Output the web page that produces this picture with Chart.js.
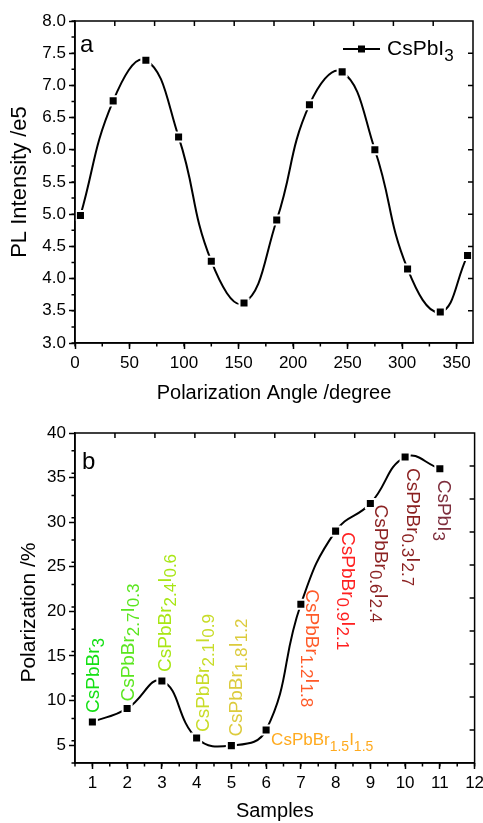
<!DOCTYPE html>
<html>
<head>
<meta charset="utf-8">
<script src="https://cdn.jsdelivr.net/npm/chart.js@4.4.1/dist/chart.umd.min.js"></script>
<style>
  body { margin: 0; background: #fff; }
  canvas { display: block; }
</style>
</head>
<body>
<canvas id="chartA" width="483" height="410"></canvas>
<canvas id="chartB" width="483" height="413"></canvas>
<script>
// (a) PL intensity vs polarization angle
const angles = [5, 35, 65, 95, 125, 155, 185, 215, 245, 275, 305, 335, 360];
const intensity = [4.98, 6.76, 7.39, 6.20, 4.27, 3.62, 4.91, 6.70, 7.21, 6.00, 4.15, 3.48, 4.36];

// (b) polarization of each sample
const samples = [1, 2, 3, 4, 5, 6, 7, 8, 9, 10, 11];
const polarization = [7.6, 9.1, 12.2, 5.8, 4.95, 6.7, 20.8, 29.0, 32.1, 37.3, 36.0];
const sampleNames = ['CsPbBr3', 'CsPbBr2.7I0.3', 'CsPbBr2.4I0.6', 'CsPbBr2.1I0.9', 'CsPbBr1.8I1.2',
  'CsPbBr1.5I1.5', 'CsPbBr1.2I1.8', 'CsPbBr0.9I2.1', 'CsPbBr0.6I2.4', 'CsPbBr0.3I2.7', 'CsPbI3'];

// label look: colour, rotation, offset from the point
const nameColors = ['#14e014', '#5ae61e', '#a8e614', '#c8dc28', '#dccb3c', '#ffaa1e',
  '#ff5a28', '#ff2020', '#8c2323', '#8a1f1f', '#7d2d3c'];
const namePlace = [[-90, 7, -9], [-90, 7, -7], [-90, 9, -9], [-90, 12, -6], [-90, 11, -9], [0, 5, 15],
  [90, 5, -15], [90, 6, 1], [90, 5, 1], [90, 2, 11], [90, -2, 11]];

const FONT = '"Liberation Sans", Arial, sans-serif';
Chart.defaults.font.family = FONT;
Chart.defaults.color = '#000';

// draws formula text with number subscripts
function drawFormula(ctx, text, x, y, rot, size, subSize, subShift) {
  const parts = text.match(/[A-Za-z]+|[0-9.]+/g);
  ctx.save();
  ctx.translate(x, y);
  ctx.rotate(rot * Math.PI / 180);
  ctx.textAlign = 'left';
  ctx.textBaseline = 'alphabetic';
  let cx = 0;
  parts.forEach(p => {
    const sub = /^[0-9.]/.test(p);
    ctx.font = (sub ? subSize : size) + 'px ' + FONT;
    ctx.fillText(p, cx, sub ? subShift : 0);
    cx += ctx.measureText(p).width;
  });
  ctx.restore();
}

// box frame, minor ticks, inward ticks on top/right
const framePlugin = {
  id: 'frame',
  afterDraw(chart, args, opts) {
    const {ctx, chartArea: a, scales} = chart;
    ctx.save();
    ctx.strokeStyle = '#000';
    ctx.lineWidth = 1.5;
    ctx.strokeRect(a.left, a.top, a.right - a.left, a.bottom - a.top);
    ctx.beginPath();
    for (let v = scales.x.min; v <= scales.x.max + 1e-9; v += opts.xMinor) {
      const px = scales.x.getPixelForValue(v);
      ctx.moveTo(px, a.bottom); ctx.lineTo(px, a.bottom + 3.5);
    }
    for (let v = scales.y.min; v <= scales.y.max + 1e-9; v += opts.yMinor) {
      const py = scales.y.getPixelForValue(v);
      ctx.moveTo(a.left, py); ctx.lineTo(a.left - 3.5, py);
    }
    for (let v = 1; v < 10; v++) {
      const px = scales.x2.getPixelForValue(v);
      ctx.moveTo(px, a.top); ctx.lineTo(px, a.top + 5);
      const py = scales.y2.getPixelForValue(v);
      ctx.moveTo(a.right, py); ctx.lineTo(a.right - 5, py);
    }
    ctx.stroke();

    ctx.fillStyle = '#000';
    ctx.font = '24px ' + FONT;
    ctx.fillText(opts.letter, a.left + opts.letterX, a.top + opts.letterY);
    ctx.restore();
  }
};

const legendPlugin = {
  id: 'legendA',
  afterDraw(chart) {
    const {ctx, chartArea: a} = chart;
    const y = a.top + 28;
    ctx.save();
    ctx.strokeStyle = '#000';
    ctx.lineWidth = 2;
    ctx.beginPath();
    ctx.moveTo(a.right - 130, y); ctx.lineTo(a.right - 93, y);
    ctx.stroke();
    ctx.fillStyle = '#000';
    ctx.fillRect(a.right - 115, y - 3.5, 7, 7);
    drawFormula(ctx, chart.data.datasets[0].label, a.right - 86, a.top + 34, 0, 21, 17, 6);
    ctx.restore();
  }
};

const namesPlugin = {
  id: 'names',
  afterDatasetsDraw(chart) {
    const {ctx, scales} = chart;
    samples.forEach((s, i) => {
      const px = scales.x.getPixelForValue(s);
      const py = scales.y.getPixelForValue(polarization[i]);
      const [rot, dx, dy] = namePlace[i];
      ctx.fillStyle = nameColors[i];
      if (rot === 0) drawFormula(ctx, sampleNames[i], px + dx, py + dy, rot, 17, 14, 6);
      else drawFormula(ctx, sampleNames[i], px + dx, py + dy, rot, 19, 17, 5);
    });
  }
};

function axisCommon(stepSize, pad) {
  return {
    type: 'linear',
    grid: { drawOnChartArea: false, drawTicks: true, tickLength: 6, tickColor: '#000', tickWidth: 1.5 },
    border: { display: true, color: '#000', width: 1.5 },
    ticks: { stepSize: stepSize, includeBounds: false, padding: pad, font: { size: 17 }, color: '#000' }
  };
}

function lineDataset(label, xs, ys) {
  return {
    label: label,
    data: xs.map((x, i) => ({ x: x, y: ys[i] })),
    borderColor: '#000',
    borderWidth: 2,
    tension: 0.45,
    pointStyle: 'rect',
    pointRadius: 6.4,
    pointBackgroundColor: '#000',
    pointBorderColor: '#fff',
    pointBorderWidth: 2,
    clip: false
  };
}

const xA = axisCommon(50, 4);
Object.assign(xA, { min: 0, max: 365,
  title: { display: true, text: 'Polarization Angle /degree', font: { size: 20 }, padding: { bottom: 5 } },
  afterFit: s => { s.height = 67; s.paddingLeft = 0; s.paddingRight = 0; } });
const yA = axisCommon(0.5, 3);
Object.assign(yA, { min: 3, max: 8,
  title: { display: true, text: 'PL Intensity /e5', font: { size: 22 }, padding: { top: 7 } },
  afterFit: s => { s.width = 75; s.paddingTop = 0; s.paddingBottom = 0; } });
yA.ticks.callback = v => v.toFixed(1);

new Chart(document.getElementById('chartA'), {
  type: 'line',
  data: { datasets: [lineDataset('CsPbI3', angles, intensity)] },
  options: {
    responsive: false,
    animation: false,
    layout: { padding: { left: 0, top: 21, right: 10, bottom: 0 } },
    plugins: {
      legend: { display: false },
      tooltip: { enabled: false },
      frame: { xMinor: 25, yMinor: 0.25, letter: 'a', letterX: 5, letterY: 31 }
    },
    scales: {
      x: xA,
      y: yA,
      x2: { type: 'linear', display: false, position: 'top', min: 0, max: 10 },
      y2: { type: 'linear', display: false, position: 'right', min: 0, max: 10 }
    }
  },
  plugins: [framePlugin, legendPlugin]
});

const xB = axisCommon(1, 4);
Object.assign(xB, { min: 0.5, max: 12,
  title: { display: true, text: 'Samples', font: { size: 20 }, padding: { bottom: 0 } },
  afterFit: s => { s.height = 60; s.paddingLeft = 0; s.paddingRight = 0; } });
const yB = axisCommon(5, 3);
Object.assign(yB, { min: 3, max: 40,
  title: { display: true, text: 'Polarization /%', font: { size: 21 }, padding: { top: 17 }, align: 'start' },
  afterFit: s => { s.width = 75; s.paddingTop = 0; s.paddingBottom = 0; } });

// nudge b's y title so it sits a little below the axis centre, as in the figure
yB.title.align = 'center';
yB.title.text = 'Polarization /%     ';

new Chart(document.getElementById('chartB'), {
  type: 'line',
  data: { datasets: [lineDataset('Polarization', samples, polarization)] },
  options: {
    responsive: false,
    animation: false,
    layout: { padding: { left: 0, top: 23, right: 8, bottom: 0 } },
    plugins: {
      legend: { display: false },
      tooltip: { enabled: false },
      frame: { xMinor: 0.5, yMinor: 2.5, letter: 'b', letterX: 7, letterY: 36 }
    },
    scales: {
      x: xB,
      y: yB,
      x2: { type: 'linear', display: false, position: 'top', min: 0, max: 10 },
      y2: { type: 'linear', display: false, position: 'right', min: 0, max: 10 }
    }
  },
  plugins: [framePlugin, namesPlugin]
});
</script>
</body>
</html>
